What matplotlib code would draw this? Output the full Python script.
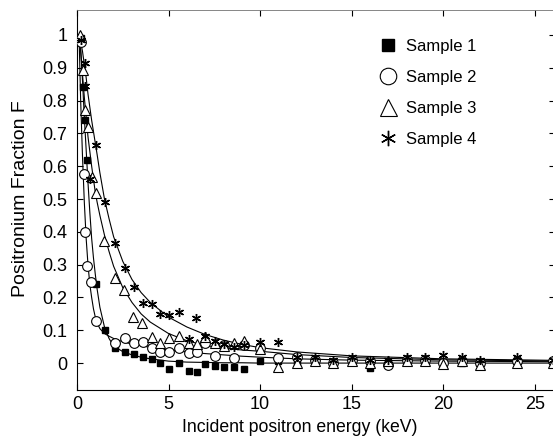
import matplotlib
matplotlib.use("Agg")
import matplotlib.pyplot as plt
from matplotlib.ticker import FormatStrFormatter

plt.rcParams['font.family'] = ['Liberation Sans', 'DejaVu Sans']

# measured points (energy keV, Ps fraction)
s1_x = [0.2, 0.35, 0.42, 0.55, 1.05, 1.55, 2.1, 2.6, 3.1, 3.6, 4.1, 4.55, 5.05, 5.55, 6.1, 6.55,
        7.0, 7.55, 8.05, 8.55, 9.1, 10, 11, 12, 13, 14, 15, 16, 17, 18, 19, 20, 21, 22, 24, 26]
s1_y = [0.99, 0.84, 0.74, 0.62, 0.24, 0.10, 0.045, 0.033, 0.027, 0.019, 0.011, 0.001, -0.019, -0.001,
        -0.023, -0.026, -0.004, -0.009, -0.013, -0.013, -0.019, 0.007, 0.005, 0.0, 0.005, 0.0, 0.003,
        -0.015, 0.0, 0.003, 0.002, 0.002, 0.0, 0.0, 0.0, 0.0]

s2_x = [0.2, 0.36, 0.46, 0.54, 0.78, 1.05, 2.1, 2.6, 3.1, 3.6, 4.1, 4.55, 5.05, 5.55, 6.1, 6.55,
        7.0, 7.55, 8.05, 8.55, 9.1, 10, 11, 12, 13, 14, 15, 16, 17, 18, 19, 20, 21, 22, 24, 26]
s2_y = [0.98, 0.575, 0.40, 0.295, 0.248, 0.128, 0.062, 0.075, 0.06, 0.065, 0.045, 0.035, 0.035, 0.045,
        0.031, 0.035, 0.06, 0.022, 0.055, 0.017, 0.055, 0.045, 0.015, 0.02, 0.01, 0.0, 0.01, 0.005,
        -0.005, 0.01, 0.01, 0.0, 0.005, 0.0, 0.005, 0.005]

s3_x = [0.14, 0.32, 0.41, 0.59, 0.83, 1.05, 1.5, 2.05, 2.54, 3.05, 3.56, 4.1, 4.55, 5.05, 5.55, 6.1,
        6.55, 7.0, 7.55, 8.05, 8.55, 9.1, 10, 11, 12, 13, 14, 15, 16, 17, 18, 19, 20, 21, 22, 24, 26]
s3_y = [1.0, 0.893, 0.77, 0.72, 0.568, 0.517, 0.373, 0.26, 0.223, 0.141, 0.121, 0.078, 0.062, 0.077,
        0.082, 0.06, 0.058, 0.078, 0.062, 0.052, 0.06, 0.068, 0.042, -0.011, 0.0, 0.005, 0.0, 0.005,
        0.0, 0.005, 0.005, 0.005, -0.003, 0.005, -0.005, 0.0, 0.0]

s4_x = [0.23, 0.41, 0.45, 0.72, 1.05, 1.54, 2.1, 2.6, 3.09, 3.6, 4.07, 4.55, 5.05, 5.55, 6.1, 6.5,
        7.0, 7.55, 8.05, 8.55, 9.1, 10, 11, 12, 13, 14, 15, 16, 17, 18, 19, 20, 21, 22, 24, 26]
s4_y = [0.985, 0.914, 0.843, 0.56, 0.665, 0.49, 0.365, 0.29, 0.233, 0.184, 0.18, 0.149, 0.146, 0.156,
        0.072, 0.136, 0.082, 0.068, 0.058, 0.05, 0.055, 0.065, 0.065, 0.02, 0.02, 0.01, 0.02, 0.01,
        0.01, 0.02, 0.02, 0.025, 0.02, 0.01, 0.02, 0.01]

# fitted curves
fit_x = [0.12, 0.2, 0.3, 0.4, 0.5, 0.6, 0.7, 0.8, 0.9, 1.0, 1.1, 1.25, 1.5, 1.75, 2, 2.5, 3, 3.5,
         4, 5, 6, 7, 8, 9, 10, 12, 15, 20, 26.5]
fit1 = [1.0, 0.96, 0.86, 0.75, 0.65, 0.55, 0.46, 0.38, 0.32, 0.27, 0.225, 0.17, 0.11, 0.075, 0.052,
        0.035, 0.025, 0.018, 0.013, 0.006, 0.003, 0.002, 0.001, 0.001, 0.0, 0.0, 0.0, 0.0, 0.0]
fit2 = [0.98, 0.8, 0.63, 0.49, 0.38, 0.3, 0.24, 0.2, 0.165, 0.14, 0.122, 0.105, 0.09, 0.082, 0.075,
        0.065, 0.058, 0.053, 0.048, 0.04, 0.034, 0.029, 0.025, 0.021, 0.018, 0.013, 0.009, 0.006, 0.004]
fit3 = [1.0, 0.95, 0.88, 0.81, 0.75, 0.69, 0.645, 0.6, 0.56, 0.52, 0.49, 0.45, 0.39, 0.34, 0.295,
        0.23, 0.185, 0.15, 0.125, 0.09, 0.068, 0.054, 0.045, 0.04, 0.036, 0.026, 0.017, 0.01, 0.006]
fit4 = [1.0, 0.98, 0.95, 0.91, 0.87, 0.82, 0.78, 0.74, 0.705, 0.67, 0.635, 0.58, 0.5, 0.44, 0.385,
        0.31, 0.255, 0.215, 0.185, 0.14, 0.11, 0.087, 0.07, 0.057, 0.047, 0.034, 0.022, 0.013, 0.008]

fig = plt.figure(figsize=(5.53, 4.45), dpi=100)
# right spine sits just past the image edge, as in the original
ax = fig.add_axes([77 / 553, 55 / 445, 478 / 553, 380 / 445])

for fy in [fit1, fit2, fit3, fit4]:
    ax.plot(fit_x, fy, color='black', lw=0.8, zorder=2)

ax.plot(s1_x, s1_y, ls='none', marker='s', ms=5, mfc='black', mec='black', label='Sample 1', zorder=3)
ax.plot(s2_x, s2_y, ls='none', marker='o', ms=7, mfc='white', mec='black', mew=0.8, label='Sample 2', zorder=3)
ax.plot(s3_x, s3_y, ls='none', marker='^', ms=7.2, mfc='white', mec='black', mew=0.8, label='Sample 3', zorder=3)
ax.plot(s4_x, s4_y, ls='none', marker=(6, 2, 0), ms=6.5, mfc='black', mec='black', mew=1.0, label='Sample 4', zorder=3)

ax.set_xlim(0, 26.1)
ax.set_ylim(-0.082, 1.076)
ax.set_xticks([0, 5, 10, 15, 20, 25])
ax.set_yticks([0, 0.1, 0.2, 0.3, 0.4, 0.5, 0.6, 0.7, 0.8, 0.9, 1])
ax.yaxis.set_major_formatter(FormatStrFormatter('%g'))
ax.tick_params(direction='in', length=4, labelsize=13, top=True, right=True)
ax.tick_params(axis='x', pad=4)
ax.tick_params(axis='y', pad=7)
ax.spines['top'].set_linewidth(0.6)
ax.spines['top'].set_color('0.45')

ax.set_xlabel('Incident positron energy (keV)', fontsize=12.7)
ax.set_ylabel('Positronium Fraction F', fontsize=14)
ax.xaxis.set_label_coords(0.467, -0.075)
ax.yaxis.set_label_coords(-0.1, 0.503)

ax.legend(loc='upper left', bbox_to_anchor=(0.598, 0.963), frameon=False, fontsize=12,
          handletextpad=0.5, labelspacing=0.95, handlelength=1.2, markerscale=1.7,
          borderaxespad=0.5)

fig.savefig('out.png', dpi=100)
